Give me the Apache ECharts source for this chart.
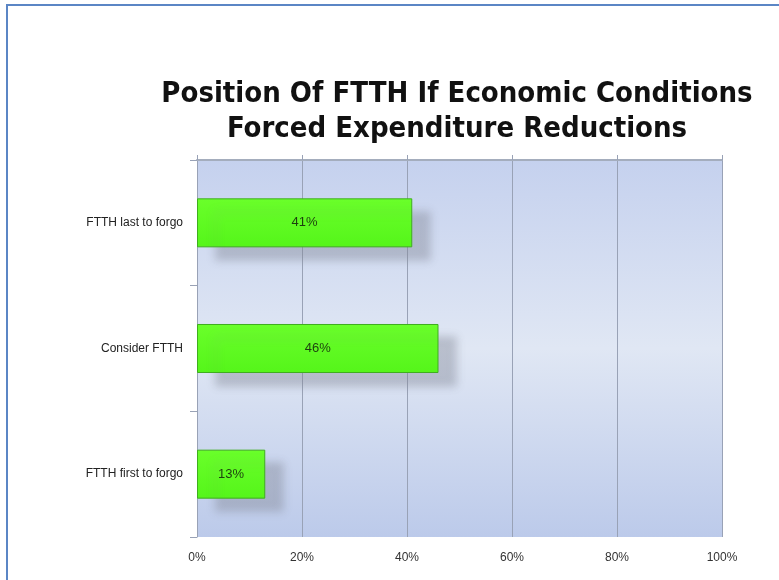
<!DOCTYPE html>
<html>
<head>
<meta charset="utf-8">
<script src="https://cdn.jsdelivr.net/npm/echarts@6/dist/echarts.min.js"></script>
<style>
  html, body { margin: 0; padding: 0; background: #ffffff; }
  #chart { width: 779px; height: 580px; }
</style>
</head>
<body>
<div id="chart"></div>
<script>
// Survey answers, listed bottom-to-top as the category axis draws them
const categories = ['FTTH first to forgo', 'Consider FTTH', 'FTTH last to forgo'];
const shares = [13, 46, 41];
const xTicks = { min: 0, max: 100, step: 20 };

const chart = echarts.init(document.getElementById('chart'), null, { renderer: 'canvas' });

const gridLine = '#99a2b6';

chart.setOption({
  backgroundColor: '#ffffff',
  animation: false,
  title: {
    text: 'Position Of FTTH If Economic Conditions\nForced Expenditure Reductions',
    left: 452,
    top: 72,
    textAlign: 'center',
    textStyle: {
      fontFamily: 'DejaVu Sans Condensed, DejaVu Sans, sans-serif',
      fontWeight: 'bold',
      fontSize: 29,
      lineHeight: 35,
      color: '#111111'
    }
  },
  graphic: [{
    type: 'rect',
    shape: { x: 7, y: 5, width: 820, height: 640 },
    style: { fill: null, stroke: '#5b86c5', lineWidth: 2 },
    silent: true,
    z: 100
  }],
  grid: {
    left: 197, right: 57, top: 160, bottom: 43,
    show: true,
    borderWidth: 0,
    backgroundColor: {
      type: 'linear', x: 0, y: 0, x2: 0, y2: 1,
      colorStops: [
        { offset: 0, color: '#c5d1ee' },
        { offset: 0.5, color: '#e0e7f4' },
        { offset: 1, color: '#bccaea' }
      ]
    }
  },
  xAxis: [{
    type: 'value',
    position: 'bottom',
    min: xTicks.min, max: xTicks.max, interval: xTicks.step,
    axisLine: { show: false },
    axisTick: { show: false },
    axisLabel: {
      formatter: '{value}%',
      margin: 15,
      fontFamily: 'Liberation Sans, Arial, sans-serif',
      fontSize: 12,
      color: '#333333'
    },
    splitLine: { show: true, lineStyle: { color: gridLine, width: 1 } }
  }, {
    type: 'value',
    position: 'top',
    min: xTicks.min, max: xTicks.max, interval: xTicks.step,
    axisLine: { show: true, lineStyle: { color: '#a4adbd', width: 2 } },
    axisTick: { show: true, length: 5, lineStyle: { color: gridLine } },
    axisLabel: { show: false },
    splitLine: { show: false }
  }],
  yAxis: {
    type: 'category',
    data: categories,
    axisLine: { show: true, lineStyle: { color: gridLine } },
    axisTick: { show: true, length: 7, lineStyle: { color: gridLine } },
    axisLabel: {
      margin: 14,
      fontFamily: 'Liberation Sans, Arial, sans-serif',
      fontSize: 12,
      color: '#222222'
    }
  },
  series: [{
    type: 'bar',
    xAxisIndex: 0,
    data: shares,
    barWidth: '39%',
    itemStyle: {
      color: {
        type: 'linear', x: 0, y: 0, x2: 0, y2: 1,
        colorStops: [
          { offset: 0, color: '#6aff2a' },
          { offset: 1, color: '#55f51a' }
        ]
      },
      borderColor: '#3fae1e',
      borderWidth: 1,
      shadowColor: 'rgba(130,135,150,0.42)',
      shadowOffsetX: 18,
      shadowOffsetY: 13,
      shadowBlur: 8
    },
    label: {
      show: true,
      position: 'inside',
      formatter: '{c}%',
      fontFamily: 'Liberation Sans, Arial, sans-serif',
      fontSize: 13,
      color: '#1d3f10'
    }
  }]
});
</script>
</body>
</html>
